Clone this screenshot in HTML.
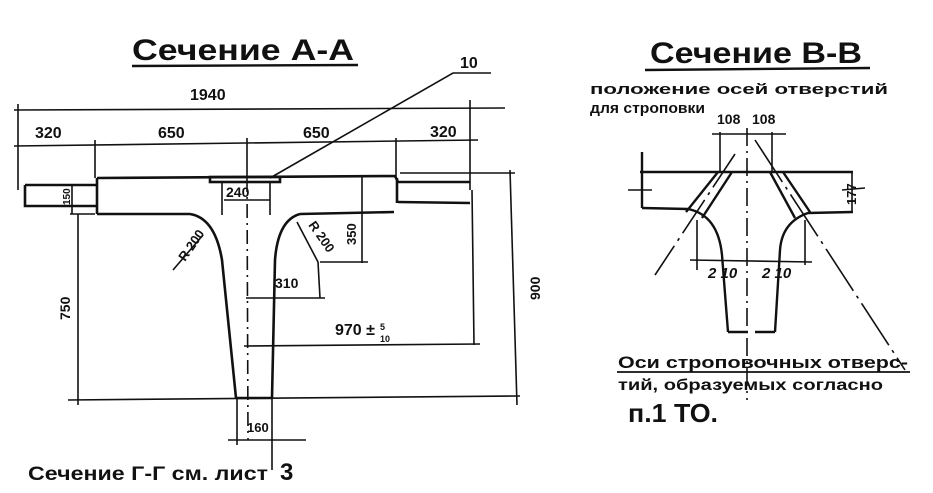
<!DOCTYPE html>
<html><head><meta charset="utf-8"><style>
html,body{margin:0;padding:0;background:#fff;}
svg{display:block;}
text{font-family:"Liberation Sans Narrow","Liberation Sans",sans-serif;font-weight:bold;fill:#111;}
</style></head><body>
<svg width="933" height="493" viewBox="0 0 933 493" xmlns="http://www.w3.org/2000/svg">
<g stroke="#111" fill="none" stroke-width="1.6">
<line x1="132" y1="66" x2="358" y2="65" stroke-width="2.4"/>
<line x1="645" y1="70" x2="870" y2="68" stroke-width="2.4"/>
<polyline points="491,73 453,73 270,178"/>
<line x1="14" y1="110" x2="505" y2="108"/>
<line x1="18" y1="104" x2="18" y2="190"/>
<line x1="470" y1="100" x2="470" y2="190"/>
<line x1="14" y1="146" x2="478" y2="140"/>
<line x1="95" y1="140" x2="95" y2="178"/>
<line x1="247" y1="138" x2="247" y2="178"/>
<line x1="396" y1="138" x2="396" y2="178"/>
<g stroke-width="2.6">
<polyline points="97,178 395,176 398,182 470,182"/>
<polyline points="25,185 97,185"/>
<polyline points="25,185 25,206 97,206"/>
<polyline points="398,202 470,203"/>
<line x1="97" y1="178" x2="97" y2="214"/>
<line x1="397" y1="178" x2="397" y2="203"/>
<line x1="97" y1="214" x2="190" y2="214"/>
<path d="M190,214 Q215,218 222,260 L236,398"/>
<line x1="300" y1="214" x2="394" y2="212"/>
<path d="M300,214 Q278,220 275,260 L272,398"/>
<line x1="236" y1="398" x2="272" y2="398"/>
<rect x="210" y="177" width="70" height="5"/>
</g>
<line x1="222" y1="182" x2="222" y2="215"/>
<line x1="270" y1="182" x2="270" y2="215"/>
<line x1="224" y1="200" x2="270" y2="200"/>
<line x1="247" y1="178" x2="248" y2="440" stroke-dasharray="14,5,2,5"/>
<line x1="72" y1="185" x2="72" y2="214"/>
<line x1="70" y1="214" x2="95" y2="214"/>
<line x1="78" y1="214" x2="78" y2="405"/>
<line x1="68" y1="400" x2="520" y2="396"/>
<line x1="400" y1="173" x2="515" y2="173"/>
<line x1="510" y1="170" x2="517" y2="405"/>
<line x1="362" y1="175" x2="362" y2="263"/>
<line x1="320" y1="262" x2="368" y2="262"/>
<line x1="173" y1="270" x2="203" y2="235"/>
<polyline points="297,222 318,262 320,298"/>
<line x1="246" y1="298" x2="325" y2="298"/>
<line x1="244" y1="346" x2="480" y2="344"/>
<line x1="472" y1="190" x2="474" y2="345"/>
<line x1="237" y1="398" x2="237" y2="445"/>
<line x1="272" y1="398" x2="272" y2="445"/>
<line x1="228" y1="440" x2="306" y2="440"/>
<line x1="272" y1="445" x2="272" y2="470"/>

<g stroke-width="2.4">
<line x1="640" y1="172" x2="853" y2="172"/>
<line x1="642" y1="152" x2="642" y2="208"/>
<path d="M642,208 L688,209 Q718,215 722,255 L728,332"/>
<path d="M853,212 L808,213 Q782,222 780,250 L775,332"/>
<line x1="728" y1="332" x2="748" y2="332"/>
<line x1="755" y1="332" x2="775" y2="332"/>
<line x1="686" y1="212" x2="718" y2="172"/>
<line x1="702" y1="218" x2="732" y2="172"/>
<line x1="770" y1="172" x2="795" y2="218"/>
<line x1="783" y1="172" x2="810" y2="212"/>
</g>
<line x1="720" y1="132" x2="720" y2="172"/>
<line x1="747" y1="128" x2="747" y2="400" stroke-dasharray="18,5,2,5"/>
<line x1="772" y1="132" x2="772" y2="172"/>
<line x1="712" y1="134" x2="786" y2="134"/>
<line x1="735" y1="154" x2="655" y2="275" stroke-dasharray="40,6,3,6"/>
<line x1="755" y1="140" x2="905" y2="370" stroke-dasharray="50,6,3,6"/>
<line x1="697" y1="220" x2="697" y2="270"/>
<line x1="805" y1="220" x2="805" y2="265"/>
<line x1="690" y1="260" x2="812" y2="262"/>
<line x1="852" y1="172" x2="852" y2="212"/>
<line x1="628" y1="190" x2="652" y2="190"/>
<line x1="842" y1="190" x2="865" y2="188"/>
<line x1="617" y1="372" x2="910" y2="372" stroke-width="1.8"/>
</g>
<text x="132" y="60" font-size="30" textLength="222" lengthAdjust="spacingAndGlyphs">Сечение А-А</text>
<text x="650" y="63" font-size="30" textLength="212" lengthAdjust="spacingAndGlyphs">Сечение В-В</text>
<text x="460" y="68" font-size="16">10</text>
<text x="190" y="100" font-size="16">1940</text>
<text x="35" y="138" font-size="16">320</text>
<text x="158" y="138" font-size="16">650</text>
<text x="303" y="138" font-size="16">650</text>
<text x="430" y="137" font-size="16">320</text>
<text x="226" y="197" font-size="14">240</text>
<text x="275" y="288" font-size="14">310</text>
<text x="335" y="335" font-size="16">970 ±</text>
<text x="380" y="330" font-size="9">5</text>
<text x="380" y="342" font-size="9">10</text>
<text x="247" y="432" font-size="13">160</text>
<text font-size="14" transform="translate(70,320) rotate(-90)">750</text>
<text font-size="14" transform="translate(540,300) rotate(-90)">900</text>
<text font-size="13" transform="translate(356,245) rotate(-90)">350</text>
<text font-size="10" transform="translate(70,205) rotate(-90)">150</text>
<text font-size="13" transform="translate(185,262) rotate(-55)">R 200</text>
<text font-size="13" transform="translate(308,225) rotate(55)">R 200</text>
<text x="28" y="480" font-size="19" textLength="240" lengthAdjust="spacingAndGlyphs">Сечение  Г-Г  см.  лист</text>
<text x="280" y="480" font-size="24">3</text>
<text x="590" y="94" font-size="15" textLength="298" lengthAdjust="spacingAndGlyphs">положение осей отверстий</text>
<text x="590" y="113" font-size="15" textLength="115" lengthAdjust="spacingAndGlyphs">для строповки</text>
<text x="717" y="124" font-size="14">108</text>
<text x="752" y="124" font-size="14">108</text>
<text font-size="13" transform="translate(856,205) rotate(-90)">177</text>
<text x="708" y="278" font-size="15" font-style="italic">2 10</text>
<text x="762" y="278" font-size="15" font-style="italic">2 10</text>
<text x="618" y="368" font-size="17" textLength="290" lengthAdjust="spacingAndGlyphs">Оси строповочных отверс-</text>
<text x="618" y="390" font-size="16" textLength="265" lengthAdjust="spacingAndGlyphs">тий, образуемых согласно</text>
<text x="628" y="422" font-size="26" textLength="90" lengthAdjust="spacingAndGlyphs">п.1 ТО.</text>
</svg>
</body></html>
